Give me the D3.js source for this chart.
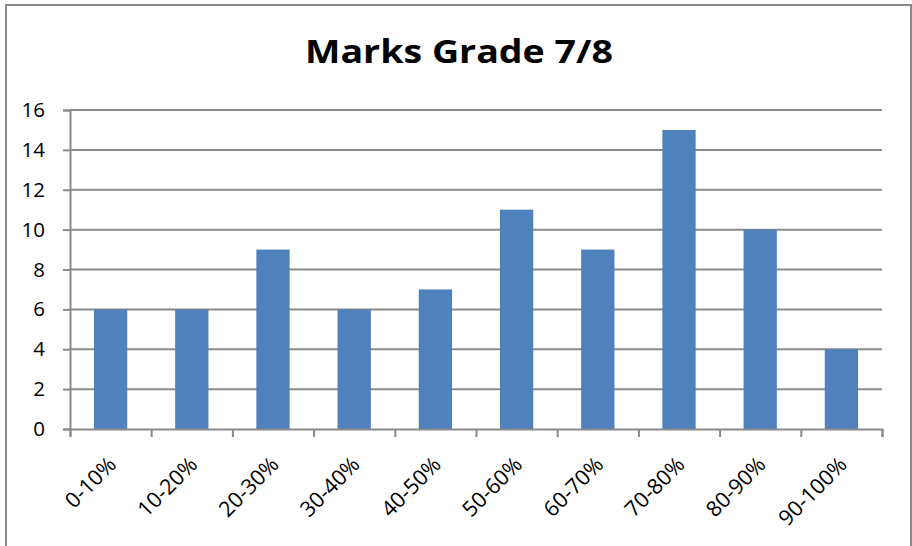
<!DOCTYPE html>
<html><head><meta charset="utf-8">
<script src="https://cdn.jsdelivr.net/npm/d3@7"></script>
<style>body{margin:0;background:#fff}svg{display:block}text{font-family:"Open Sans",Lato,sans-serif;fill:#000}</style>
</head><body><div id="c"></div>
<script>
const categories = ["0-10%","10-20%","20-30%","30-40%","40-50%","50-60%","60-70%","70-80%","80-90%","90-100%"];
const values = [6,6,9,6,7,11,9,15,10,4];
const yTicks = [0,2,4,6,8,10,12,14,16];
const title = "Marks Grade 7/8";

const W = 912, H = 546;
const svg = d3.select("#c").append("svg").attr("width", W).attr("height", H);
svg.append("rect").attr("x",6).attr("y",5).attr("width",905).attr("height",560)
  .attr("fill","#fff").attr("stroke","#8a8a8a").attr("stroke-width",2);

const x0 = 70, x1 = 882, yTop = 110, yBot = 429;
const x = d3.scaleBand().domain(categories).range([x0, x1]).paddingInner(0.59).paddingOuter(0.295);
const y = d3.scaleLinear().domain([0,16]).range([yBot, yTop]);

// gridlines
svg.append("g").selectAll("line").data(yTicks.filter(d=>d>0)).join("line")
  .attr("x1", x0).attr("x2", x1).attr("y1", d=>y(d)).attr("y2", d=>y(d))
  .attr("stroke","#8a8a8a").attr("stroke-width",2);

// bars
svg.append("g").selectAll("rect").data(values).join("rect")
  .attr("x",(d,i)=>x(categories[i])).attr("width",x.bandwidth())
  .attr("y",d=>y(d)).attr("height",d=>yBot-y(d)).attr("fill","#4f81bd");

// y axis
const ya = svg.append("g").attr("transform",`translate(${x0},0)`)
  .call(d3.axisLeft(y).tickValues(yTicks).tickSize(7).tickPadding(18));
ya.select(".domain").attr("stroke","#8a8a8a").attr("stroke-width",2);
ya.selectAll(".tick line").attr("stroke","#8a8a8a").attr("stroke-width",2);
ya.selectAll("text").attr("font-size",20.5).attr("font-family","'Open Sans', sans-serif").attr("fill","#000");

// x axis
const xt = d3.scaleLinear().domain([0,10]).range([x0,x1]);
const xa = svg.append("g").attr("transform",`translate(0,${yBot})`)
  .call(d3.axisBottom(xt).tickValues(d3.range(0,11)).tickSize(8).tickFormat(""));
xa.select(".domain").attr("stroke","#8a8a8a").attr("stroke-width",2);
xa.selectAll(".tick line").attr("stroke","#8a8a8a").attr("stroke-width",2);

svg.append("g").selectAll("text").data(categories).join("text")
  .attr("transform",d=>`translate(${x(d)+x.bandwidth()/2+7},${yBot+37}) rotate(-45)`)
  .attr("text-anchor","end").attr("font-size",21.5).text(d=>d);

svg.append("text").attr("x",305).attr("y",63)
  .attr("font-size",32).attr("font-weight","bold")
  .attr("textLength",308).attr("lengthAdjust","spacingAndGlyphs").text(title);
</script></body></html>
